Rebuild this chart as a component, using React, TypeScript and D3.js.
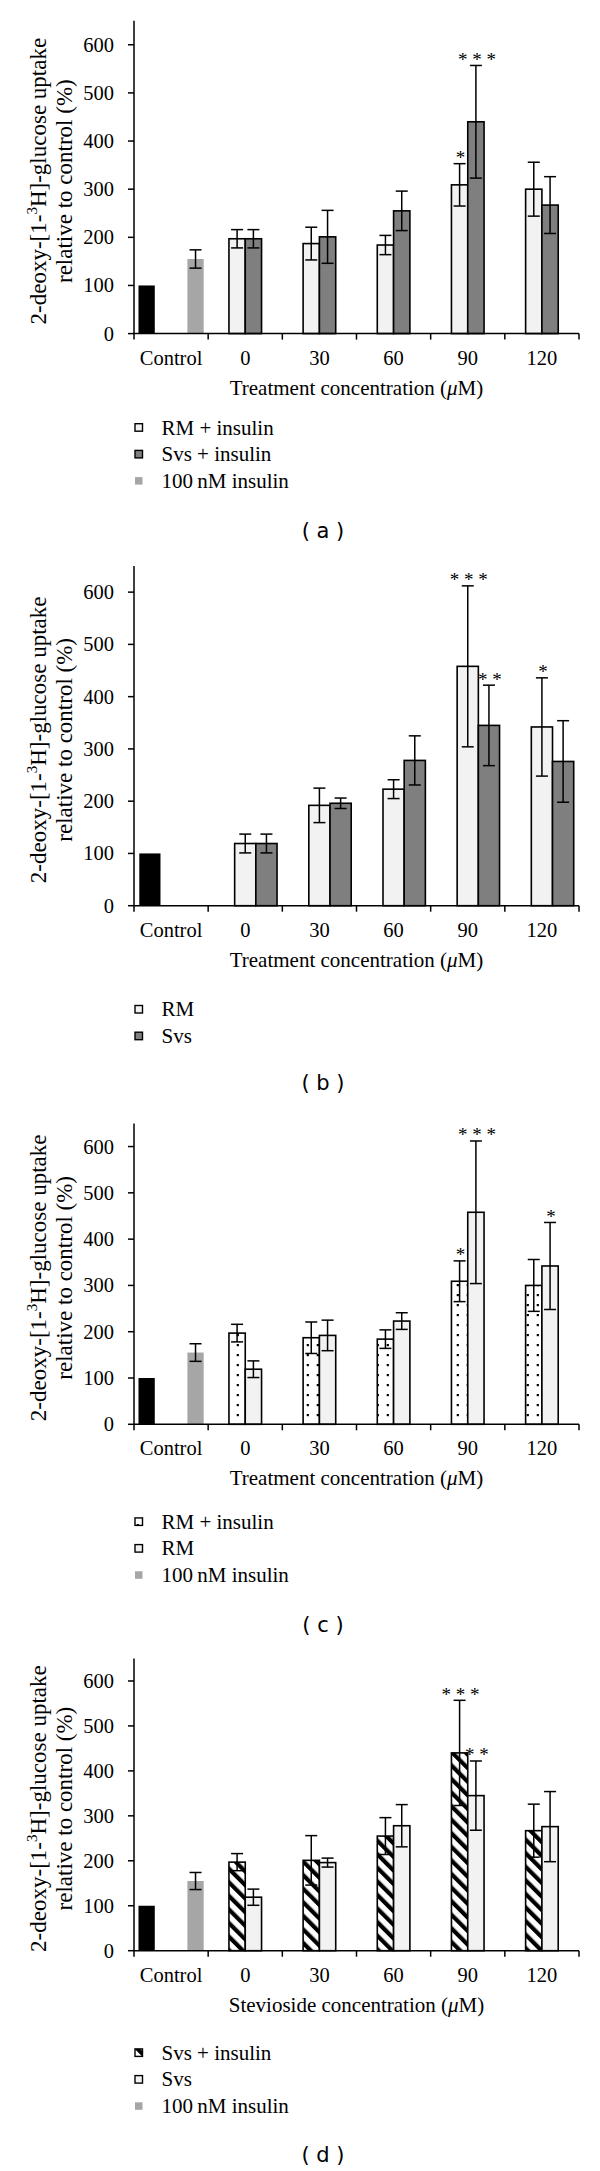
import * as d3 from "d3";

// categories on the x axis
const categories = ["Control", "0", "30", "60", "90", "120"];
const yTicks = [0, 100, 200, 300, 400, 500, 600];

// control and insulin reference bars
const controlValue = 100;
const insulinValue = 155;
const insulinError = 19;

// treatment series, one value per concentration (0, 30, 60, 90, 120 uM)
const rmInsulin = [197, 187, 184, 309, 300];
const rmInsulinError = [19, 34, 20, 44, 56];
const rmInsulinStars = ["", "", "", "*", ""];

const svsInsulin = [197, 201, 255, 440, 267];
const svsInsulinError = [19, 55, 41, 117, 59];
const svsInsulinStars = ["", "", "", "***", ""];

const rmAlone = [119, 192, 223, 458, 342];
const rmAloneError = [18, 33, 18, 154, 94];
const rmAloneStars = ["", "", "", "***", "*"];

const svsAlone = [119, 196, 278, 345, 276];
const svsAloneError = [18, 10, 47, 77, 78];
const svsAloneStars = ["", "", "", "**", ""];

const AXIS_LEFT = 134;
const AXIS_RIGHT = 579;
const SERIF = "'Liberation Serif', 'Times New Roman', serif";

const LIGHT = "#f2f2f2";
const DARK = "#7f7f7f";
const INSULIN = "#a6a6a6";

interface Series {
  label: string;
  values: number[];
  errors: number[];
  stars: string[];
  fill: string;
}

interface PanelSpec {
  id: string;
  top: number;
  zero: number;
  series: Series[];
  withInsulin: boolean;
  xTitle: string;
  legendY: number;
  captionY: number;
}

const rmIns: Series = { label: "RM + insulin", values: rmInsulin, errors: rmInsulinError, stars: rmInsulinStars, fill: LIGHT };
const svsIns: Series = { label: "Svs + insulin", values: svsInsulin, errors: svsInsulinError, stars: svsInsulinStars, fill: DARK };
const rm: Series = { label: "RM", values: rmAlone, errors: rmAloneError, stars: rmAloneStars, fill: LIGHT };
const svs: Series = { label: "Svs", values: svsAlone, errors: svsAloneError, stars: svsAloneStars, fill: DARK };

const panels: PanelSpec[] = [
  { id: "a", top: 20.7, zero: 333.6, series: [rmIns, svsIns], withInsulin: true, xTitle: "Treatment concentration", legendY: 427.5, captionY: 531 },
  { id: "b", top: 566, zero: 905.7, series: [rm, svs], withInsulin: false, xTitle: "Treatment concentration", legendY: 1009.3, captionY: 1083 },
  {
    id: "c", top: 1123.4, zero: 1424.3,
    series: [{ ...rmIns, fill: "url(#dots)" }, rm],
    withInsulin: true, xTitle: "Treatment concentration", legendY: 1521.7, captionY: 1625,
  },
  {
    id: "d", top: 1658.5, zero: 1950.7,
    series: [{ ...svsIns, fill: "url(#hatch)" }, { ...svs, fill: LIGHT }],
    withInsulin: true, xTitle: "Stevioside concentration", legendY: 2052.7, captionY: 2155,
  },
];

function ErrorBar({ cx, y1, y2 }: { cx: number; y1: number; y2: number }) {
  return (
    <g stroke="#000" strokeWidth={1.5}>
      <line x1={cx} x2={cx} y1={y1} y2={y2} />
      <line x1={cx - 6} x2={cx + 6} y1={y1} y2={y1} />
      <line x1={cx - 6} x2={cx + 6} y1={y2} y2={y2} />
    </g>
  );
}

function Panel({ spec }: { spec: PanelSpec }) {
  const x = d3.scaleBand().domain(categories).range([AXIS_LEFT, AXIS_RIGHT]);
  const slots = spec.withInsulin ? ["control", "s0", "s1", "insulin"] : ["control", "s0", "s1"];
  const inner = d3
    .scaleBand()
    .domain(slots)
    .range([0, x.bandwidth()])
    .paddingOuter(spec.withInsulin ? 0.275 : 0.25);
  const y = d3.scaleLinear().domain([0, 650]).range([spec.zero, spec.top]);
  const w = inner.bandwidth();
  const cx0 = x("Control") ?? 0;
  const midY = (spec.top + spec.zero) / 2 + 4;

  const legendItems = spec.series.map((s) => ({ label: s.label, fill: s.fill, stroke: true }));
  if (spec.withInsulin) legendItems.push({ label: "100\u2009nM insulin", fill: INSULIN, stroke: false });

  return (
    <g fill="#000">
      {/* y axis title */}
      <text
        transform={`translate(45.5, ${midY}) rotate(-90)`}
        textAnchor="middle"
        fontFamily={SERIF}
        fontSize={23}
      >
        2-deoxy-[1-
        <tspan fontSize={15} dy={-9}>3</tspan>
        <tspan dy={9}>H]-glucose uptake</tspan>
      </text>
      <text
        transform={`translate(72, ${midY}) rotate(-90)`}
        textAnchor="middle"
        fontFamily={SERIF}
        fontSize={23}
      >
        relative to control (%)
      </text>

      {/* y axis */}
      <line x1={AXIS_LEFT} x2={AXIS_LEFT} y1={spec.zero} y2={spec.top} stroke="#000" strokeWidth={1.5} />
      {yTicks.map((t) => (
        <g key={t}>
          <line x1={AXIS_LEFT - 6} x2={AXIS_LEFT} y1={y(t)} y2={y(t)} stroke="#000" strokeWidth={1.5} />
          <text x={AXIS_LEFT - 20} y={y(t) + 7} textAnchor="end" fontFamily={SERIF} fontSize={20.5}>
            {t}
          </text>
        </g>
      ))}

      {/* control + insulin bars */}
      <rect
        x={cx0 + (inner("control") ?? 0)}
        y={y(controlValue)}
        width={w}
        height={spec.zero - y(controlValue)}
        fill="#000"
      />
      {spec.withInsulin && (
        <g>
          <rect
            x={cx0 + (inner("insulin") ?? 0)}
            y={y(insulinValue)}
            width={w}
            height={spec.zero - y(insulinValue)}
            fill={INSULIN}
          />
          <ErrorBar
            cx={cx0 + (inner("insulin") ?? 0) + w / 2}
            y1={y(insulinValue + insulinError)}
            y2={y(insulinValue - insulinError)}
          />
        </g>
      )}

      {/* treatment bars */}
      {spec.series.map((s, si) =>
        s.values.map((v, i) => {
          const bx = (x(categories[i + 1]) ?? 0) + (inner(`s${si}`) ?? 0);
          const top = y(v);
          const e = s.errors[i];
          return (
            <g key={`${si}-${i}`}>
              <rect
                x={bx}
                y={top}
                width={w}
                height={spec.zero - top}
                fill={s.fill}
                stroke="#000"
                strokeWidth={1.6}
              />
              <ErrorBar cx={bx + w / 2} y1={y(v + e)} y2={y(v - e)} />
              {s.stars[i] && (
                <text
                  x={bx + w / 2 + 1}
                  y={y(v + e) + 0.5}
                  textAnchor="middle"
                  fontFamily={SERIF}
                  fontSize={19}
                  fill="#000"
                >
                  {s.stars[i].split("").join(" ")}
                </text>
              )}
            </g>
          );
        })
      )}

      {/* x axis */}
      <line x1={AXIS_LEFT} x2={AXIS_RIGHT} y1={spec.zero} y2={spec.zero} stroke="#000" strokeWidth={1.5} />
      {categories.map((c) => (
        <line
          key={`t${c}`}
          x1={x(c) ?? 0}
          x2={x(c) ?? 0}
          y1={spec.zero}
          y2={spec.zero + 6}
          stroke="#000"
          strokeWidth={1.5}
        />
      ))}
      <line x1={AXIS_RIGHT} x2={AXIS_RIGHT} y1={spec.zero} y2={spec.zero + 6} stroke="#000" strokeWidth={1.5} />
      {categories.map((c) => (
        <text
          key={`l${c}`}
          x={(x(c) ?? 0) + x.bandwidth() / 2}
          y={spec.zero + 31}
          textAnchor="middle"
          fontFamily={SERIF}
          fontSize={20.5}
        >
          {c}
        </text>
      ))}
      <text
        x={(AXIS_LEFT + AXIS_RIGHT) / 2}
        y={spec.zero + 61}
        textAnchor="middle"
        fontFamily={SERIF}
        fontSize={21}
      >
        {spec.xTitle} (<tspan fontStyle="italic">μ</tspan>M)
      </text>

      {/* legend */}
      {legendItems.map((item, i) => {
        const ly = spec.legendY + i * 26.7;
        return (
          <g key={item.label}>
            <rect
              x={135}
              y={ly - 3.8}
              width={7.5}
              height={7.5}
              fill={item.fill}
              stroke={item.stroke ? "#000" : "none"}
              strokeWidth={1.4}
            />
            <text x={161.5} y={ly + 7} fontFamily={SERIF} fontSize={21}>
              {item.label}
            </text>
          </g>
        );
      })}

      {/* caption */}
      <text
        x={323}
        y={spec.captionY + 7}
        textAnchor="middle"
        fontFamily="'DejaVu Sans', sans-serif"
        fontSize={21}
      >
        ( {spec.id} )
      </text>
    </g>
  );
}

export default function App() {
  return (
    <svg
      width={600}
      height={2171}
      viewBox="0 0 600 2171"
      style={{ position: "absolute", left: 0, top: 0, background: "#fff" }}
    >
      <defs>
        <pattern id="dots" patternUnits="userSpaceOnUse" width={10} height={10}>
          <rect width={10} height={10} fill="#fff" />
          <rect x={6.7} y={4} width={2.2} height={2.2} fill="#000" />
        </pattern>
        <pattern
          id="hatch"
          patternUnits="userSpaceOnUse"
          width={9.6}
          height={9.6}
          patternTransform="rotate(-45)"
        >
          <rect width={9.6} height={9.6} fill="#fff" />
          <rect x={0} y={0} width={4.2} height={9.6} fill="#000" />
        </pattern>
      </defs>
      {panels.map((p) => (
        <Panel key={p.id} spec={p} />
      ))}
    </svg>
  );
}
